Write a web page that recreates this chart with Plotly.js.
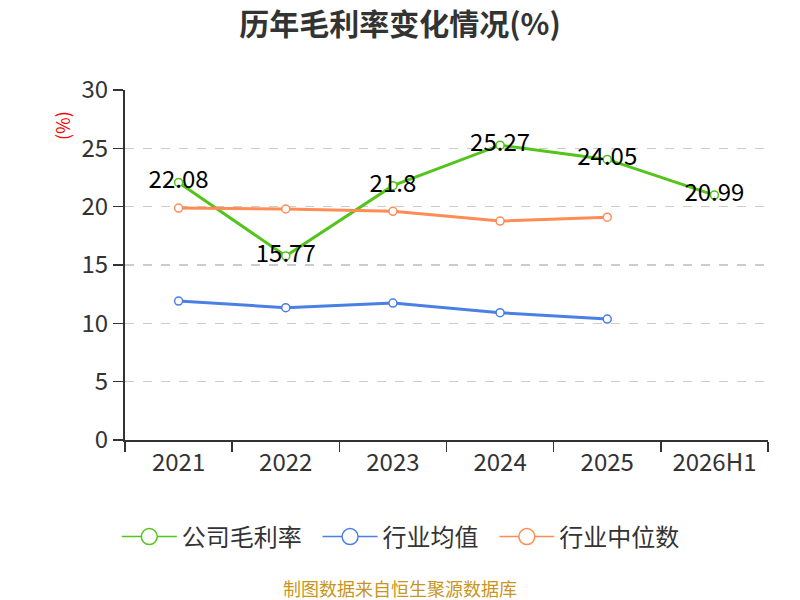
<!DOCTYPE html>
<html>
<head>
<meta charset="utf-8">
<script src="https://cdn.plot.ly/plotly-3.0.1.min.js"></script>
<style>body{margin:0;} #chart{width:800px;height:600px;}</style>
</head>
<body>
<div id="chart"></div>
<script>
var years = ["2021", "2022", "2023", "2024", "2025", "2026H1"];
var company = [22.08, 15.77, 21.8, 25.27, 24.05, 20.99];
var industryAvg = [11.91, 11.34, 11.74, 10.91, 10.37];
var industryMedian = [19.88, 19.8, 19.6, 18.77, 19.1];
var yTicks = [0, 5, 10, 15, 20, 25, 30];

var font = "'Noto Sans CJK SC', 'Noto Sans', sans-serif";
var names = ["公司毛利率", "行业均值", "行业中位数"];
var colors = ["#52c41a", "#4a7fe3", "#ff8c55"];
var pad = "\u00a0\u00a0";  // a little extra room between legend entries

function series(name, y, color, labels) {
  var t = {
    type: "scatter",
    x: years.slice(0, y.length),
    y: y,
    name: name,
    showlegend: false,
    mode: labels ? "lines+markers+text" : "lines+markers",
    line: {color: color, width: 3},
    marker: {symbol: "circle", size: 8, color: "#ffffff", line: {color: color, width: 1.5}},
    hoverinfo: "x+y"
  };
  if (labels) {
    t.text = y.map(String);
    t.textposition = "middle center";
    t.textfont = {family: font, size: 24, color: "#000000"};
  }
  return t;
}

// legend-only entries: thin line with a large open circle
function legendItem(name, color) {
  return {
    type: "scatter", x: [null], y: [null], name: name + pad, mode: "lines+markers",
    line: {color: color, width: 1.5},
    marker: {symbol: "circle", size: 16, color: "#ffffff", line: {color: color, width: 1.5}},
    hoverinfo: "skip"
  };
}

var data = [
  series(names[0], company, colors[0], true),
  series(names[1], industryAvg, colors[1], false),
  series(names[2], industryMedian, colors[2], false)
];
for (var i = 0; i < names.length; i++) data.push(legendItem(names[i], colors[i]));

var layout = {
  width: 800, height: 600,
  margin: {l: 125, r: 32, t: 90, b: 160},
  paper_bgcolor: "#ffffff", plot_bgcolor: "#ffffff",
  font: {family: font, color: "#333333"},
  title: {text: "<b>历年毛利率变化情况(%)</b>", x: 0.5, xref: "container", y: 0.96, yanchor: "middle",
          font: {family: font, size: 30, color: "#333333"}},
  xaxis: {
    type: "category", range: [-0.5, 5.5], tickson: "boundaries",
    showline: true, linecolor: "#333333", linewidth: 2,
    ticks: "outside", ticklen: 10, tickwidth: 1.5, tickcolor: "#333333",
    tickfont: {family: font, size: 24, color: "#333333"},
    showgrid: false, zeroline: false, fixedrange: true
  },
  yaxis: {
    range: [0, 30], tickvals: yTicks,
    showline: true, linecolor: "#333333", linewidth: 2,
    ticks: "outside", ticklen: 10, tickwidth: 1.5, tickcolor: "#333333",
    tickfont: {family: font, size: 24, color: "#333333"},
    showgrid: true, gridcolor: "#cccccc", griddash: "dash", gridwidth: 1.2,
    zeroline: false, fixedrange: true
  },
  showlegend: true,
  legend: {
    orientation: "h", xref: "container", yref: "container",
    x: 0.146, xanchor: "left", y: 0.105, yanchor: "middle",
    itemwidth: 55,
    font: {family: font, size: 24, color: "#333333"}
  },
  annotations: [
    {text: "(%)", xref: "paper", yref: "paper", x: -0.098, y: 0.9, xanchor: "center", yanchor: "middle",
     showarrow: false, textangle: -90, font: {family: font, size: 18, color: "#ff0000"}},
    {text: "制图数据来自恒生聚源数据库", xref: "paper", yref: "paper", x: 0.4277, y: -0.422,
     xanchor: "center", yanchor: "middle",
     showarrow: false, font: {family: font, size: 18, color: "#c8961e"}}
  ]
};

Plotly.newPlot("chart", data, layout, {displayModeBar: false, staticPlot: true});
</script>
</body>
</html>
